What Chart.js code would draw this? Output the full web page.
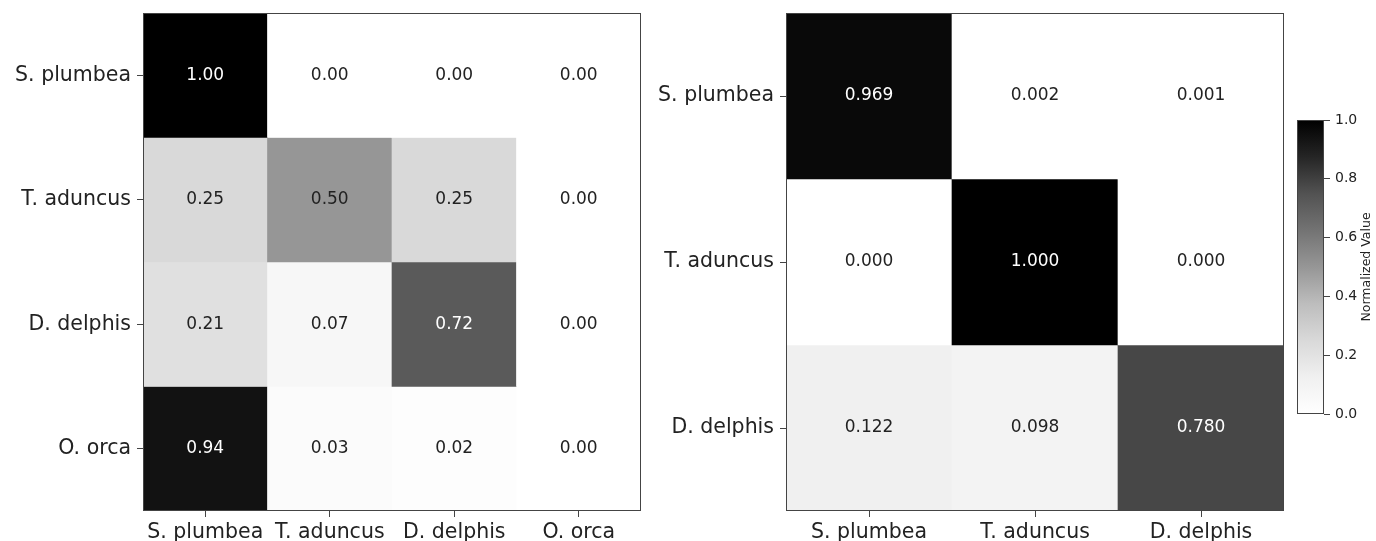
<!DOCTYPE html>
<html>
<head>
<meta charset="utf-8">
<script src="https://cdn.jsdelivr.net/npm/chart.js@4/dist/chart.umd.min.js"></script>
<style>
  html, body { margin: 0; padding: 0; background: #ffffff; }
  body { width: 1376px; height: 541px; position: relative; overflow: hidden; }
  .box { position: absolute; top: 0; height: 541px; }
  canvas { display: block; }
</style>
</head>
<body>
<div class="box" id="b1" style="left:0px;width:700px;"><canvas id="c1"></canvas></div>
<div class="box" id="b2" style="left:640px;width:736px;"><canvas id="c2"></canvas></div>
<div class="box" id="b3" style="left:1280px;width:96px;"><canvas id="c3"></canvas></div>
<script>
// ---------- DATA ----------
const leftClasses = ['S. plumbea', 'T. aduncus', 'D. delphis', 'O. orca'];
const leftValues = [
  [1.00, 0.00, 0.00, 0.00],
  [0.25, 0.50, 0.25, 0.00],
  [0.21, 0.07, 0.72, 0.00],
  [0.94, 0.03, 0.02, 0.00]
];
const rightClasses = ['S. plumbea', 'T. aduncus', 'D. delphis'];
const rightValues = [
  [0.969, 0.002, 0.001],
  [0.000, 1.000, 0.000],
  [0.122, 0.098, 0.780]
];
const colorbarTicks = [0.0, 0.2, 0.4, 0.6, 0.8, 1.0];
const colorbarTitle = 'Normalized Value';

// ---------- STYLE ----------
const FONT = "'DejaVu Sans', 'Liberation Sans', sans-serif";
const TEXT = '#222222';
const SPINE = '#444444';
const greysStops = [255, 240, 217, 189, 150, 115, 82, 37, 0];
function greys(v) {
  v = Math.max(0, Math.min(1, v));
  const p = v * (greysStops.length - 1);
  const i = Math.min(Math.floor(p), greysStops.length - 2);
  const f = p - i;
  const g = Math.round(greysStops[i] + (greysStops[i + 1] - greysStops[i]) * f);
  return `rgb(${g},${g},${g})`;
}

const frame = {
  id: 'frame',
  afterDatasetsDraw(chart) {
    const { ctx, chartArea: a } = chart;
    ctx.save();
    ctx.strokeStyle = SPINE;
    ctx.lineWidth = 1;
    ctx.strokeRect(Math.round(a.left) + 0.5, Math.round(a.top) + 0.5,
      Math.round(a.right - a.left) - 1, Math.round(a.bottom - a.top) - 1);
    ctx.restore();
  }
};

function noPad(s) { s.paddingTop = 0; s.paddingBottom = 0; s.paddingLeft = 0; s.paddingRight = 0; }

function cellLabels(values, decimals) {
  return {
    id: 'cellLabels',
    afterDatasetsDraw(chart) {
      const { ctx } = chart;
      ctx.save();
      ctx.font = `17px ${FONT}`;
      ctx.textAlign = 'center';
      ctx.textBaseline = 'middle';
      values.forEach((row, r) => {
        const meta = chart.getDatasetMeta(r);
        row.forEach((v, c) => {
          const el = meta.data[c];
          const cy = (el.y + el.base) / 2;
          ctx.fillStyle = v > 0.5 ? '#ffffff' : TEXT;
          ctx.fillText(v.toFixed(decimals), el.x, cy);
        });
      });
      ctx.restore();
    }
  };
}

function heatmap(canvasId, classes, values, decimals, yAxisWidth, pad) {
  const datasets = values.map((row, r) => ({
    label: classes[r],
    data: row.map(() => [r, r + 1]),
    backgroundColor: row.map(v => greys(v)),
    borderWidth: 0,
    barPercentage: 1,
    categoryPercentage: 1,
    grouped: false
  }));
  return new Chart(document.getElementById(canvasId), {
    type: 'bar',
    data: { labels: classes, datasets },
    options: {
      responsive: true,
      maintainAspectRatio: false,
      animation: false,
      layout: { padding: pad },
      plugins: { legend: { display: false }, tooltip: { enabled: false } },
      scales: {
        x: {
          type: 'category',
          offset: true,
          border: { display: false },
          grid: { display: true, offset: false, drawOnChartArea: false, drawTicks: true, tickLength: 6, tickColor: SPINE, lineWidth: 1 },
          ticks: { color: TEXT, font: { family: FONT, size: 20.5 }, padding: 3, maxRotation: 0, autoSkip: false },
          afterFit(s) { s.height = 30; noPad(s); }
        },
        y: {
          type: 'linear',
          min: 0,
          max: classes.length,
          reverse: true,
          border: { display: false },
          grid: { display: true, drawOnChartArea: false, drawTicks: true, tickLength: 6, tickColor: SPINE, lineWidth: 1 },
          ticks: {
            color: TEXT, font: { family: FONT, size: 20.5 }, padding: 6, autoSkip: false,
            callback: (v) => classes[Math.floor(v)]
          },
          afterBuildTicks(s) { s.ticks = classes.map((_, i) => ({ value: i + 0.5 })); },
          afterFit(s) { s.width = yAxisWidth; noPad(s); }
        }
      }
    },
    plugins: [cellLabels(values, decimals), frame]
  });
}

heatmap('c1', leftClasses, leftValues, 2, 143, { left: 0, top: 13, right: 59, bottom: 0 });
heatmap('c2', rightClasses, rightValues, 3, 146, { left: 0, top: 13, right: 92, bottom: 0 });

// ---------- COLORBAR ----------
const cbTitle = {
  id: 'cbTitle',
  afterDraw(chart) {
    const { ctx, chartArea: a } = chart;
    ctx.save();
    ctx.translate(87, (a.top + a.bottom) / 2);
    ctx.rotate(-Math.PI / 2);
    ctx.font = `12.5px ${FONT}`;
    ctx.fillStyle = TEXT;
    ctx.textAlign = 'center';
    ctx.textBaseline = 'middle';
    ctx.fillText(colorbarTitle, 0, 0);
    ctx.restore();
  }
};
new Chart(document.getElementById('c3'), {
  type: 'bar',
  data: {
    labels: [''],
    datasets: [{
      data: [[0, 1]],
      borderWidth: 0,
      barPercentage: 1,
      categoryPercentage: 1,
      backgroundColor(ctx) {
        const { chart } = ctx;
        const a = chart.chartArea;
        if (!a) return '#888';
        const g = chart.ctx.createLinearGradient(0, a.bottom, 0, a.top);
        greysStops.forEach((s, i) => g.addColorStop(i / (greysStops.length - 1), `rgb(${s},${s},${s})`));
        return g;
      }
    }]
  },
  options: {
    responsive: true,
    maintainAspectRatio: false,
    animation: false,
    layout: { padding: { left: 17, top: 120, right: 0, bottom: 127 } },
    plugins: { legend: { display: false }, tooltip: { enabled: false } },
    scales: {
      x: { display: false, offset: true },
      y: {
        position: 'right',
        min: 0, max: 1,
        border: { display: false },
        grid: { display: true, drawOnChartArea: false, drawTicks: true, tickLength: 6, tickColor: SPINE },
        ticks: { color: TEXT, font: { family: FONT, size: 14 }, padding: 5, callback: v => v.toFixed(1) },
        afterBuildTicks(s) { s.ticks = colorbarTicks.map(v => ({ value: v })); },
        afterFit(s) { s.width = 52; noPad(s); }
      }
    }
  },
  plugins: [frame, cbTitle]
});
</script>
</body>
</html>
